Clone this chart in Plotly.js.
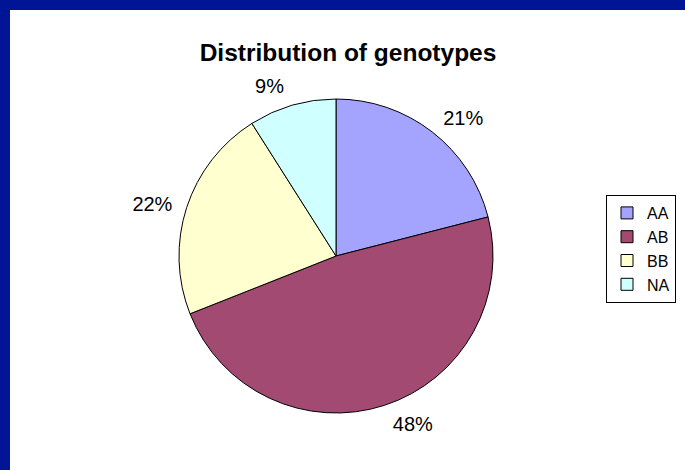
<!DOCTYPE html>
<html><head><meta charset="utf-8">
<script src="https://cdn.plot.ly/plotly-3.0.1.min.js"></script>
<style>
html,body{margin:0;padding:0;background:#001496;width:685px;height:470px;overflow:hidden;}
#chart{position:absolute;left:10px;top:10px;width:675px;height:460px;background:#fff;}
</style></head>
<body><div id="chart"></div>
<script>
const categories = ["AA", "AB", "BB", "NA"];
const values = [21, 48, 22, 9];
const colors = ["#a4a4ff", "#a34a72", "#ffffd0", "#d0ffff"];

const W = 675, H = 460;
const cx = 326, cy = 246, R = 157, RL = 166;
const FONT = "Liberation Sans, Arial, sans-serif";
const dom = r => ({x: [(cx - r) / W, (cx + r) / W], y: [(H - cy - r) / H, (H - cy + r) / H]});

Plotly.newPlot("chart", [{
  type: "pie",
  labels: categories,
  values: values,
  sort: false,
  direction: "clockwise",
  rotation: 0,
  marker: {colors: colors, line: {color: "#000", width: 1}},
  textinfo: "none",
  hoverinfo: "none",
  domain: dom(R)
}, {
  type: "pie",
  labels: categories,
  values: values,
  sort: false,
  direction: "clockwise",
  rotation: 0,
  showlegend: false,
  marker: {colors: ["rgba(0,0,0,0)", "rgba(0,0,0,0)", "rgba(0,0,0,0)", "rgba(0,0,0,0)"], line: {width: 0}},
  textinfo: "percent",
  textposition: "outside",
  texttemplate: "%{percent:.0%}",
  outsidetextfont: {family: FONT, size: 20, color: "#000"},
  hoverinfo: "none",
  domain: dom(RL)
}], {
  width: W, height: H,
  margin: {l: 0, r: 0, t: 0, b: 0},
  paper_bgcolor: "#fff",
  font: {family: FONT, color: "#000"},
  title: {text: "<b>Distribution of genotypes</b>", font: {size: 24.5, family: FONT, color: "#000"},
          x: 338 / W, xanchor: "center", y: 1 - 42 / H, yanchor: "middle"},
  showlegend: true,
  legend: {x: 596 / W, xanchor: "left", y: 1 - 185 / H, yanchor: "top",
           bordercolor: "#000", borderwidth: 1, bgcolor: "#fff",
           font: {size: 16, family: FONT, color: "#000"},
           tracegroupgap: 0, itemwidth: 30}
}, {staticPlot: true});
</script></body></html>
